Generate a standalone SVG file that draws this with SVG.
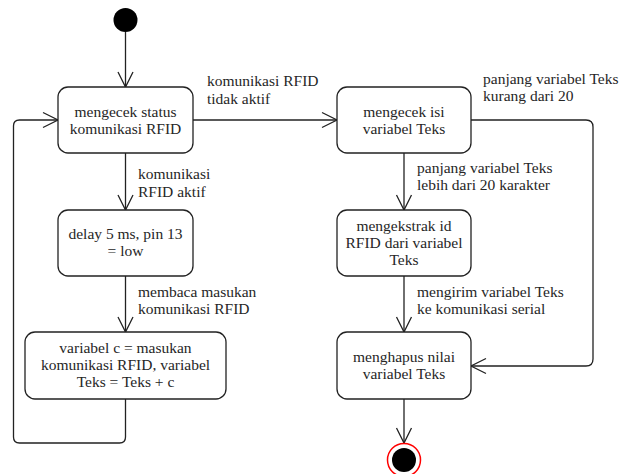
<svg xmlns="http://www.w3.org/2000/svg" width="635" height="474" viewBox="0 0 635 474">
<style>
.box{fill:#fff;stroke:#222;stroke-width:1.3}
.edge{fill:none;stroke:#222;stroke-width:1.3}
text{font-family:"Liberation Serif","Times New Roman",serif;font-size:15.5px;fill:#262626}
.c{text-anchor:middle}
</style>
<defs>
<marker id="open" markerUnits="userSpaceOnUse" markerWidth="17" markerHeight="17" refX="15" refY="7.5" orient="auto" overflow="visible">
<path d="M0,0 L15,7.5 L0,15" fill="none" stroke="#222" stroke-width="1.3"/>
</marker>
</defs>
<rect width="635" height="474" fill="#fff"/>
<g id="connectors">
<path class="edge" d="M125.5,32 V87" marker-end="url(#open)"/>
<path class="edge" d="M193,120 H337" marker-end="url(#open)"/>
<path class="edge" d="M125.5,153 V210" marker-end="url(#open)"/>
<path class="edge" d="M125.5,276 V332" marker-end="url(#open)"/>
<path class="edge" d="M125.5,399 V437 Q125.5,443 119.5,443 H19.5 Q13.5,443 13.5,437 V126 Q13.5,120 19.5,120 H58" marker-end="url(#open)"/>
<path class="edge" d="M404,153 V210" marker-end="url(#open)"/>
<path class="edge" d="M404,276 V332" marker-end="url(#open)"/>
<path class="edge" d="M471,120 H586 Q593,120 593,127 V359 Q593,366 586,366 H471" marker-end="url(#open)"/>
<path class="edge" d="M404,399 V443" marker-end="url(#open)"/>
<text x="207" y="86">komunikasi RFID</text>
<text x="207" y="104">tidak aktif</text>
<text x="483" y="84">panjang variabel Teks</text>
<text x="483" y="101">kurang dari 20</text>
<text x="138" y="179">komunikasi</text>
<text x="138" y="197">RFID aktif</text>
<text x="138" y="297">membaca masukan</text>
<text x="138" y="314">komunikasi RFID</text>
<text x="417" y="173">panjang variabel Teks</text>
<text x="417" y="190">lebih dari 20 karakter</text>
<text x="417" y="297">mengirim variabel Teks</text>
<text x="417" y="314">ke komunikasi serial</text>
</g>
<g id="start">
<circle cx="125.5" cy="20" r="12" fill="#000"/>
</g>
<g id="cekStatus">
<rect class="box" x="58" y="87" width="135" height="66" rx="10"/>
<text class="c" x="125.5" y="117">mengecek status</text>
<text class="c" x="125.5" y="134">komunikasi RFID</text>
</g>
<g id="delay">
<rect class="box" x="58" y="210" width="135" height="66" rx="10"/>
<text class="c" x="125.5" y="239">delay 5 ms, pin 13</text>
<text class="c" x="125.5" y="256">= low</text>
</g>
<g id="variabelC">
<rect class="box" x="25" y="332" width="201" height="67" rx="10"/>
<text class="c" x="125.5" y="353">variabel c = masukan</text>
<text class="c" x="125.5" y="370">komunikasi RFID, variabel</text>
<text class="c" x="125.5" y="387">Teks = Teks + c</text>
</g>
<g id="cekIsi">
<rect class="box" x="337" y="87" width="134" height="66" rx="10"/>
<text class="c" x="404" y="117">mengecek isi</text>
<text class="c" x="404" y="134">variabel Teks</text>
</g>
<g id="ekstrak">
<rect class="box" x="337" y="210" width="134" height="66" rx="10"/>
<text class="c" x="404" y="231">mengekstrak id</text>
<text class="c" x="404" y="248">RFID dari variabel</text>
<text class="c" x="404" y="265">Teks</text>
</g>
<g id="hapus">
<rect class="box" x="337" y="332" width="134" height="67" rx="10"/>
<text class="c" x="404" y="362">menghapus nilai</text>
<text class="c" x="404" y="379">variabel Teks</text>
</g>
<g id="end">
<circle cx="404" cy="460" r="16.5" fill="#fff" stroke="#ff0000" stroke-width="1.5"/>
<circle cx="404" cy="460" r="12" fill="#000"/>
</g>
</svg>
